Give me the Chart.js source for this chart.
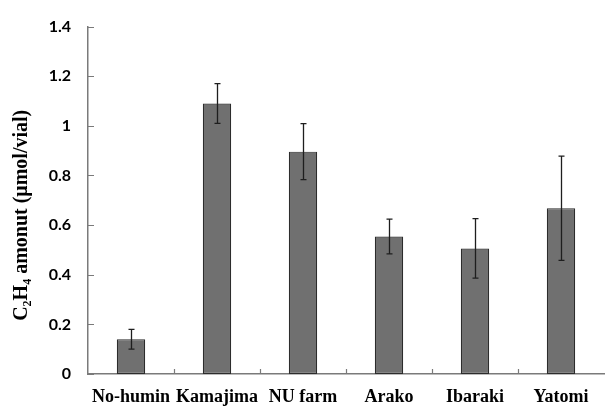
<!DOCTYPE html>
<html>
<head>
<meta charset="utf-8">
<script src="https://cdn.jsdelivr.net/npm/chart.js@4.4.1/dist/chart.umd.min.js"></script>
<style>
  html, body { margin: 0; padding: 0; background: #fff; }
  #wrap { width: 611px; height: 406px; }
</style>
</head>
<body>
<div id="wrap"><canvas id="myChart"></canvas></div>
<script>
// data
const categories = ["No-humin", "Kamajima", "NU farm", "Arako", "Ibaraki", "Yatomi"];
const amounts = [0.14, 1.09, 0.896, 0.554, 0.506, 0.668];
const errors = [0.04, 0.08, 0.113, 0.07, 0.12, 0.21];
const yTicks = [0, 0.2, 0.4, 0.6, 0.8, 1, 1.2, 1.4];
const yTickLabels = ["0", "0.2", "0.4", "0.6", "0.8", "1", "1.2", "1.4"];

const axisColor = "#7a7a7a";

// short ticks pointing into the plot, plus error bars
const extrasPlugin = {
  id: "extras",
  afterDatasetsDraw(chart) {
    const ctx = chart.ctx;
    const x = chart.scales.x;
    const y = chart.scales.y;
    const area = chart.chartArea;

    ctx.save();
    ctx.strokeStyle = axisColor;
    ctx.lineWidth = 1.2;
    ctx.beginPath();
    yTicks.forEach((v) => {
      const py = Math.round(y.getPixelForValue(v)) + 0.5;
      ctx.moveTo(area.left, py);
      ctx.lineTo(area.left + 6, py);
    });
    for (let i = 1; i < categories.length; i++) {
      const px = Math.round((x.getPixelForValue(i - 1) + x.getPixelForValue(i)) / 2) + 0.5;
      ctx.moveTo(px, area.bottom);
      ctx.lineTo(px, area.bottom - 5);
    }
    ctx.stroke();

    // error bars
    ctx.strokeStyle = "#1e1e1e";
    ctx.lineWidth = 1.3;
    ctx.beginPath();
    amounts.forEach((v, i) => {
      const px = Math.round(x.getPixelForValue(i)) + 0.5;
      const top = y.getPixelForValue(v + errors[i]);
      const bot = y.getPixelForValue(v - errors[i]);
      ctx.moveTo(px, top);
      ctx.lineTo(px, bot);
      ctx.moveTo(px - 3, top);
      ctx.lineTo(px + 3, top);
      ctx.moveTo(px - 3, bot);
      ctx.lineTo(px + 3, bot);
    });
    ctx.stroke();
    ctx.restore();
  },
};

const ctx = document.getElementById("myChart");
const myChart = new Chart(ctx, {
  type: "bar",
  data: {
    labels: categories,
    datasets: [{
      data: amounts,
      backgroundColor: "#707070",
      borderColor: "#2c2c2c",
      borderWidth: 1.2,
      borderSkipped: false,
      barPercentage: 0.33,
      categoryPercentage: 1,
    }],
  },
  options: {
    responsive: true,
    maintainAspectRatio: false,
    animation: false,
    layout: { padding: { top: 22, right: 7, left: 0, bottom: 0 } },
    plugins: {
      legend: { display: false },
      tooltip: { enabled: false },
    },
    scales: {
      x: {
        offset: true,
        grid: { display: false, drawTicks: false },
        border: { display: true, color: axisColor, width: 1.5 },
        ticks: {
          autoSkip: false,
          maxRotation: 0,
          padding: 13,
          color: "#000",
          font: { family: "Liberation Serif", size: 18, weight: "bold" },
        },
        afterFit: (s) => { s.height = 32; },
      },
      y: {
        min: 0,
        max: 1.4,
        afterBuildTicks: (s) => { s.ticks = yTicks.map((v) => ({ value: v })); },
        grid: { display: false, drawTicks: false },
        border: { display: true, color: axisColor, width: 1.5 },
        ticks: {
          padding: 17,
          color: "#000",
          font: { family: "Lato", size: 16, weight: "bold" },
          callback: (v) => yTickLabels[yTicks.indexOf(v)],
        },
        title: {
          display: true,
          // trailing spaces nudge the title a little lower, as in the original
          text: "C\u2082H\u2084 amonut (\u03bcmol/vial)\u2003\u2002",
          color: "#000",
          padding: { top: 10, bottom: 0 },
          font: { family: "Liberation Serif", size: 20, weight: "bold" },
        },
        afterFit: (s) => { s.width = 88; },
      },
    },
  },
  plugins: [extrasPlugin],
});
</script>
</body>
</html>
